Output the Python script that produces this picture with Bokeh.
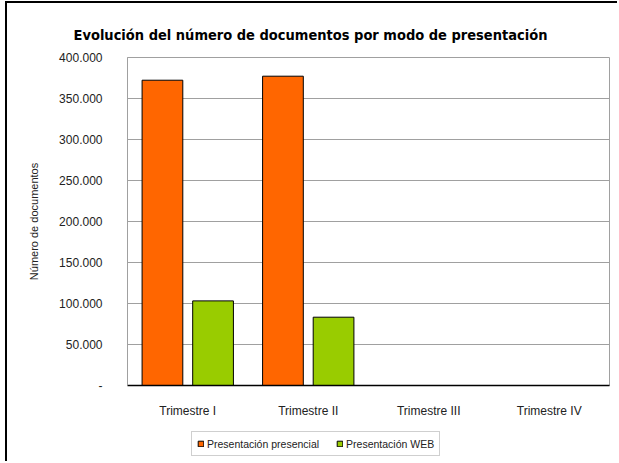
from bokeh.plotting import figure
from bokeh.layouts import column
from bokeh.models import (FactorRange, FixedTicker, Legend, LegendItem,
                          ColumnDataSource, Range1d)
from bokeh.transform import dodge
from bokeh.embed import file_html
from bokeh.resources import INLINE

# ---- data ----
categories = ["Trimestre I", "Trimestre II", "Trimestre III", "Trimestre IV"]
presencial = [372300, 377200, float("nan"), float("nan")]
web = [103200, 83300, float("nan"), float("nan")]
series_names = ["Presentación presencial", "Presentación WEB"]
series_colors = ["#FF6600", "#99CC00"]
y_ticks = [0, 50000, 100000, 150000, 200000, 250000, 300000, 350000, 400000]
y_tick_labels = ["-", "50.000", "100.000", "150.000", "200.000", "250.000",
                 "300.000", "350.000", "400.000"]
title_text = "Evolución del número de documentos por modo de presentación"
y_title = "Número de documentos"

source = ColumnDataSource(dict(cat=categories, pres=presencial, web=web))

p = figure(x_range=FactorRange(*categories), y_range=(0, 400000),
           width=610, height=422, output_backend="svg", toolbar_location=None,
           min_border_left=120, min_border_right=8, min_border_top=54,
           min_border_bottom=40)

p.title.text = title_text
p.title.align = "left"
p.title.offset = -54
p.title.text_font = "DejaVu Sans Condensed"
p.title.text_font_size = "14.5px"
p.title.text_font_style = "bold"
p.title.text_color = "black"
p.title.standoff = 30

r1 = p.vbar(x=dodge("cat", -0.21, range=p.x_range), top="pres", width=0.338,
            source=source, fill_color=series_colors[0], line_color="black", line_width=1)
r2 = p.vbar(x=dodge("cat", 0.21, range=p.x_range), top="web", width=0.338,
            source=source, fill_color=series_colors[1], line_color="black", line_width=1)

# axes
p.yaxis.ticker = FixedTicker(ticks=y_ticks)
p.yaxis.major_label_overrides = {t: l for t, l in zip(y_ticks, y_tick_labels)}
p.yaxis.axis_line_color = "#a0a0a0"
p.yaxis.major_tick_line_color = None
p.yaxis.minor_tick_line_color = None
p.yaxis.major_tick_out = 0
p.yaxis.major_tick_in = 0
p.yaxis.major_label_standoff = 25
p.yaxis.major_label_text_font = "Liberation Sans"
p.yaxis.major_label_text_font_size = "12px"
p.yaxis.major_label_text_color = "#222222"
p.yaxis.axis_label = y_title
p.yaxis.axis_label_text_font = "Liberation Sans"
p.yaxis.axis_label_text_font_size = "11px"
p.yaxis.axis_label_text_font_style = "normal"
p.yaxis.axis_label_text_color = "#222222"
p.yaxis.axis_label_standoff = 16

p.xaxis.axis_line_color = "black"
p.xaxis.axis_line_width = 1.5
p.xaxis.major_tick_line_color = None
p.xaxis.minor_tick_line_color = None
p.xaxis.major_tick_out = 0
p.xaxis.major_tick_in = 0
p.xaxis.major_label_standoff = 18
p.xaxis.major_label_text_font = "Liberation Sans"
p.xaxis.major_label_text_font_size = "12px"
p.xaxis.major_label_text_color = "#222222"

p.xgrid.grid_line_color = None
p.ygrid.grid_line_color = "#a0a0a0"
p.ygrid.grid_line_width = 1
p.outline_line_color = "#a0a0a0"
p.outline_line_width = 1

# ---- legend strip below the chart ----
lf = figure(width=610, height=36, output_backend="svg", toolbar_location=None,
            x_axis_location=None, y_axis_location=None,
            x_range=Range1d(0, 1), y_range=Range1d(0, 1),
            min_border_left=0, min_border_right=0, min_border_top=0,
            min_border_bottom=0)
lf.outline_line_color = None
lf.xgrid.grid_line_color = None
lf.ygrid.grid_line_color = None
placeholder = ColumnDataSource(dict(x=[float("nan")], top=[float("nan")]))
d1 = lf.vbar(x="x", top="top", width=0.1, source=placeholder,
             fill_color=series_colors[0], line_color="black")
d2 = lf.vbar(x="x", top="top", width=0.1, source=placeholder,
             fill_color=series_colors[1], line_color="black")

legend = Legend(items=[LegendItem(label=series_names[0], renderers=[d1]),
                       LegendItem(label=series_names[1], renderers=[d2])],
                orientation="horizontal", location=(64, 5),
                label_text_font="Liberation Sans", label_text_font_size="10.5px",
                label_text_color="#222222", glyph_width=7, glyph_height=7,
                label_standoff=3, spacing=17, padding=5, margin=0,
                label_height=13, border_line_color="#a0a0a0", border_line_width=1,
                background_fill_alpha=1)
lf.add_layout(legend, "center")

layout = column(p, lf, spacing=0)
layout.styles = {"border-left": "2px solid black", "border-top": "2px solid black",
                 "margin-left": "5px", "margin-top": "1px"}

open("out.html", "w").write(file_html(layout, INLINE))
